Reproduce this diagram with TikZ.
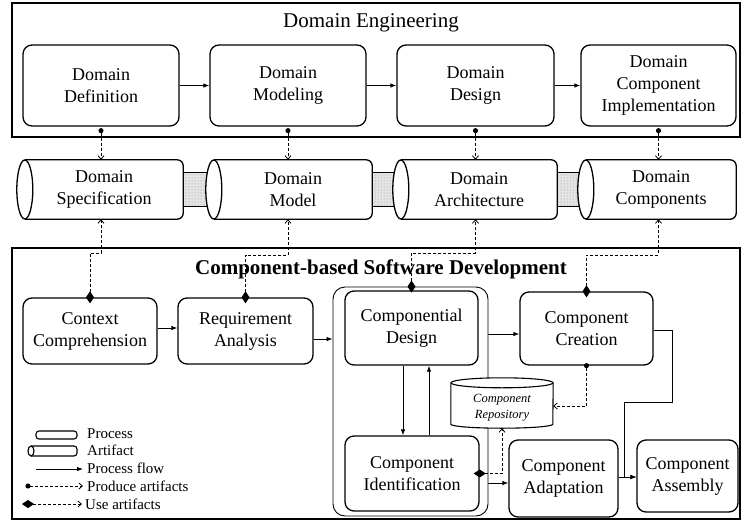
\documentclass[tikz,border=0pt]{standalone}
\usepackage{fontspec}
\setmainfont{Liberation Serif}
\usetikzlibrary{arrows.meta,patterns}
\pgfdeclarelayer{back}
\pgfdeclarelayer{bg}
\pgfsetlayers{back,bg,main}

\tikzset{
  procbox/.style={draw, line width=1.3pt, rounded corners=9pt, align=center,
    inner sep=0pt, font=\fontsize{18}{22}\selectfont},
  artnode/.style={align=center, inner sep=0pt, minimum height=59pt,
    font=\fontsize{18}{22}\selectfont},
  frame/.style={draw, line width=1.2pt, inner sep=0pt},
  flow/.style={line width=0.8pt, -{Latex[length=6pt,width=4.5pt]}},
  produce/.style={line width=0.8pt, dash pattern=on 3pt off 2pt,
    {Circle[length=5pt]}-{Straight Barb[length=3.5pt,width=6pt]}, shorten <=-2.5pt},
  useart/.style={line width=0.8pt, dash pattern=on 3pt off 2pt,
    {Diamond[length=12pt,width=8pt]}-{Straight Barb[length=3.5pt,width=6pt]}, shorten <=-6pt},
  legend/.style={anchor=west, inner sep=0pt, font=\fontsize{15}{17}\selectfont},
}

% horizontal artifact cylinder: node spans from the face centre to the right end
\newcommand\drawartifact[1]{%
  \begin{pgfonlayer}{bg}
    \draw[line width=1.3pt, fill=white, rounded corners=6pt]
      (#1.north west) -- (#1.north east) -- (#1.south east) -- (#1.south west);
    \draw[line width=1.3pt, fill=white] (#1.west)
      ellipse[x radius=8pt, y radius=29.5pt];
  \end{pgfonlayer}}

% stippled tube joining two artifact cylinders
\newcommand\drawtube[2]{%
  \begin{pgfonlayer}{back}
    \fill[black!10] ([yshift=17pt,xshift=-6pt]#1.east) rectangle ([yshift=-17pt]#2.west);
    \fill[pattern=dots, pattern color=black!45] ([yshift=17pt,xshift=-6pt]#1.east) rectangle ([yshift=-17pt]#2.west);
    \draw[line width=1pt] ([yshift=17pt,xshift=-6pt]#1.east) -- ([yshift=17pt]#2.west);
    \draw[line width=1pt] ([yshift=-17pt,xshift=-6pt]#1.east) -- ([yshift=-17pt]#2.west);
  \end{pgfonlayer}}

\begin{document}
\begin{tikzpicture}[x=1pt,y=-1pt]
\useasboundingbox (0,0) rectangle (742,520);

% ---------------- Domain engineering ----------------
\node[frame, minimum width=728pt, minimum height=134pt] (de) at (376,70) {};
\node[font=\fontsize{21}{24}\selectfont] (detitle) at (371,23) {Domain Engineering};

\node[procbox, minimum width=156pt, minimum height=81pt] (ddef) at (101,85.5) {Domain\\Definition};
\node[procbox, minimum width=156pt, minimum height=81pt] (dmod) at (288,85.5) {Domain\\Modeling};
\node[procbox, minimum width=157pt, minimum height=81pt] (ddes) at (475.5,85.5) {Domain\\Design};
\node[procbox, minimum width=155pt, minimum height=81pt] (dimp) at (658.5,85.5) {Domain\\Component\\Implementation};

\draw[flow] (ddef) -- (dmod);
\draw[flow] (dmod) -- (ddes);
\draw[flow] (ddes) -- (dimp);

% ---------------- artifacts ----------------
\node[artnode, minimum width=158pt] (spec)  at (104,189.5) {Domain\\Specification};
\node[artnode, minimum width=158pt] (model) at (293,189.5) {Domain\\Model};
\node[artnode, minimum width=156pt] (arch)  at (479,189.5) {Domain\\Architecture};
\node[artnode, minimum width=150pt] (comps) at (661,189.5) {Domain\\Components};
\drawartifact{spec}
\drawartifact{model}
\drawartifact{arch}
\drawartifact{comps}
\drawtube{spec}{model}
\drawtube{model}{arch}
\drawtube{arch}{comps}

\draw[produce] ([yshift=-4pt]ddef.south) -- (ddef.south |- spec.north);
\draw[produce] ([yshift=-4pt]dmod.south) -- (dmod.south |- model.north);
\draw[produce] ([yshift=-4pt]ddes.south) -- (ddes.south |- arch.north);
\draw[produce] ([yshift=-4pt]dimp.south) -- (dimp.south |- comps.north);

% ---------------- component-based development ----------------
\node[frame, minimum width=728pt, minimum height=271pt] (cb) at (376,383.5) {};
\node[font=\bfseries\fontsize{21}{24}\selectfont] (cbtitle) at (381,269) {Component-based Software Development};

\node[procbox, minimum width=134pt, minimum height=66pt] (cc)  at (90,331)      {Context\\Comprehension};
\node[procbox, minimum width=135pt, minimum height=66pt] (ra)  at (245.5,331)   {Requirement\\Analysis};
\node[procbox, minimum width=133pt, minimum height=74pt] (cd)  at (411.5,328)   {Componential\\Design};
\node[procbox, minimum width=133pt, minimum height=73pt] (cr)  at (586.5,328.5) {Component\\Creation};
\node[procbox, minimum width=134pt, minimum height=75pt] (ci)  at (412,473.5)   {Component\\Identification};
\node[procbox, minimum width=109pt, minimum height=77pt] (ca)  at (563.5,478.5) {Component\\Adaptation};
\node[procbox, minimum width=101pt, minimum height=72pt] (cas) at (687.5,476)   {Component\\Assembly};

\begin{pgfonlayer}{back}
  \node[draw, line width=0.9pt, rounded corners=12pt, inner sep=0pt,
        minimum width=155pt, minimum height=229pt] (grp) at (410.5,401.5) {};
\end{pgfonlayer}

% component repository
\node[inner sep=0pt, minimum width=102pt, minimum height=50pt] (rep) at (502,403) {};
\begin{pgfonlayer}{bg}
  \draw[fill=white, line width=1.1pt] ([yshift=-5pt]rep.north west) -- ([yshift=4pt]rep.south west)
    arc[start angle=180, end angle=360, x radius=51pt, y radius=4pt] -- ([yshift=-5pt]rep.north east);
  \draw[fill=white, line width=1.1pt] ([yshift=-5pt]rep.north) ellipse[x radius=51pt, y radius=5pt];
\end{pgfonlayer}
\node[align=center, inner sep=0pt, font=\itshape\fontsize{12.5}{16}\selectfont] (replabel)
  at ([yshift=-5pt]rep.center) {Component\\Repository};

% use artifacts
\coordinate (lvA) at (0,253);
\coordinate (lvB) at (0,255);
\draw[useart] (cc.north) -- (cc.north |- lvA) -| (spec.south -| ddef.south);
\draw[useart] (ra.north) -- (ra.north |- lvB) -| (model.south -| dmod.south);
\draw[useart] (cd.north |- grp.north) -- (cd.north |- lvA) -| (arch.south -| ddes.south);
\draw[useart] (cr.north) -- (cr.north |- lvB) -| (comps.south -| dimp.south);
\draw[useart] (ci.east) -- (ci.east -| rep.south) -- (rep.south);

% produce into repository
\coordinate (yR) at (0,406);
\draw[produce] (cr.south) -- (cr.south |- yR) -- (rep.east |- yR);

% process flow
\coordinate (yA) at (0,328);
\coordinate (yB) at (0,339);
\coordinate (yC) at (0,334);
\coordinate (yE) at (0,483);
\coordinate (yF) at (0,477);
\coordinate (yG) at (0,330);
\coordinate (xD) at (403,0);
\coordinate (xU) at (429,0);
\coordinate (xH) at (624,0);
\coordinate (bendA) at (672,402);
\draw[flow] (cc.east |- yA) -- (ra.west |- yA);
\draw[flow] (ra.east |- yB) -- (grp.west |- yB);
\draw[flow] (grp.east |- yC) -- (cr.west |- yC);
\draw[flow] (cd.south -| xD) -- (ci.north -| xD);
\draw[flow] (ci.north -| xU) -- (cd.south -| xU);
\draw[flow] (grp.east |- yE) -- (ca.west |- yE);
\draw[flow] (ca.east |- yF) -- (cas.west |- yF);
\draw[flow] (cr.east |- yG) -| (bendA) -| (xH |- yF) -- (cas.west |- yF);

% ---------------- legend ----------------
\draw[line width=1.1pt, rounded corners=3pt] (36,431) rectangle (77,439);
\node[legend] (lgproc) at (87,434) {Process};
\draw[line width=1.1pt, rounded corners=3pt, fill=white] (31,446) -- (77,446) -- (77,456) -- (31,456);
\draw[line width=1.1pt, fill=white] (31,451) ellipse[x radius=3pt, y radius=5pt];
\node[legend] (lgart) at (87,450) {Artifact};
\coordinate (lgf) at (36,469);
\node[legend] (lgflow) at (87,468) {Process flow};
\draw[flow] (lgf) -- ([xshift=-4pt]lgflow.west |- lgf);
\coordinate (lgp) at (28,486);
\node[legend] (lgprod) at (87,486) {Produce artifacts};
\draw[produce] (lgp) -- ([xshift=-4pt]lgprod.west |- lgp);
\coordinate (lgu) at (28,504);
\node[legend] (lguse) at (85,504) {Use artifacts};
\draw[useart] (lgu) -- ([xshift=-3pt]lguse.west |- lgu);
\end{tikzpicture}
\end{document}
